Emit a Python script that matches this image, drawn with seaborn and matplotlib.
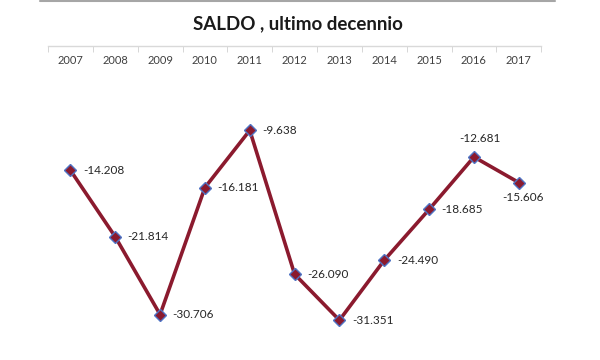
import matplotlib
matplotlib.use("Agg")
import matplotlib.pyplot as plt
import seaborn as sns
import pandas as pd
from matplotlib.lines import Line2D

# data
years = [2007, 2008, 2009, 2010, 2011, 2012, 2013, 2014, 2015, 2016, 2017]
saldo = [-14.208, -21.814, -30.706, -16.181, -9.638, -26.090, -31.351, -24.490, -18.685, -12.681, -15.606]
labels = ["-14.208", "-21.814", "-30.706", "-16.181", "-9.638", "-26.090",
          "-31.351", "-24.490", "-18.685", "-12.681", "-15.606"]

df = pd.DataFrame({"anno": years, "saldo": saldo})

sns.set_style("white")
plt.rcParams['font.family'] = ['Lato', 'DejaVu Sans']

fig = plt.figure(figsize=(6, 3.6), dpi=100)
ax = fig.add_axes([0.08, 0.022, 0.822, 0.850])

sns.lineplot(data=df, x="anno", y="saldo", ax=ax, color="#8b1a2e", linewidth=2.6,
             marker="D", markersize=6.5, markerfacecolor="#8b1a2e",
             markeredgecolor="#4f74c4", markeredgewidth=1.0)

ax.set_xlim(2006.5, 2017.5)
ax.set_ylim(-35, 0)

# value labels
for x, y, t in zip(years, saldo, labels):
    if x == 2016:
        ax.annotate(t, (x, y), xytext=(4, 9), textcoords="offset points",
                    ha="center", va="bottom", fontsize=8.5, color="#262626")
    elif x == 2017:
        ax.annotate(t, (x, y), xytext=(3, -7), textcoords="offset points",
                    ha="center", va="top", fontsize=8.5, color="#262626")
    else:
        ax.annotate(t, (x, y), xytext=(9, 0), textcoords="offset points",
                    ha="left", va="center", fontsize=8.5, color="#262626")

# category axis line at the top, labels hanging below it
ax.xaxis.tick_top()
ax.set_xticks(years)
ax.set_xticklabels([str(y) for y in years], fontsize=8, color="#404040")
ax.set_xticks([y - 0.5 for y in years] + [years[-1] + 0.5], minor=True)
ax.tick_params(axis="x", which="major", length=0, pad=-14.5)
ax.tick_params(axis="x", which="minor", length=4, direction="in",
               color="#d0d0d0", top=True, bottom=False)
ax.set_yticks([])
ax.set_xlabel("")
ax.set_ylabel("")
for s in ["left", "right", "bottom"]:
    ax.spines[s].set_visible(False)
ax.spines["top"].set_color("#d9d9d9")
ax.spines["top"].set_linewidth(1)

fig.text(0.497, 0.935, "SALDO , ultimo decennio", ha="center", va="center",
         fontsize=13.5, fontweight="bold", color="#1a1a1a")

# thin gray frame line along the top
fig.add_artist(Line2D([40 / 600, 555 / 600], [0.997, 0.997], color="#a6a6a6",
                      linewidth=1.5, transform=fig.transFigure))

fig.savefig("out.png", dpi=100)
